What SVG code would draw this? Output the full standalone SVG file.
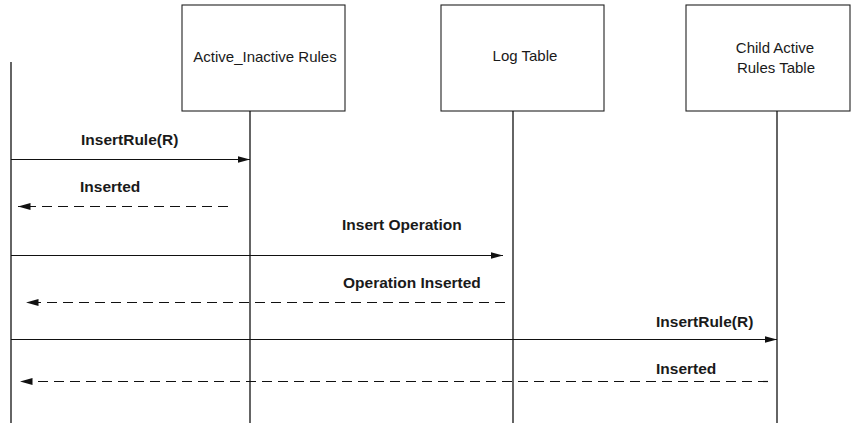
<svg xmlns="http://www.w3.org/2000/svg" width="852" height="425" viewBox="0 0 852 425">
  <style>
    .box { fill: #ffffff; stroke: #222222; stroke-width: 1.1; }
    .life { stroke: #111111; stroke-width: 1.3; fill: none; }
    .call { stroke: #111111; stroke-width: 1.2; fill: none; marker-end: url(#head); }
    .reply { stroke: #111111; stroke-width: 1.2; fill: none; stroke-dasharray: 10 6; marker-end: url(#head); }
    .name { font-family: "Liberation Sans", Arial, sans-serif; font-size: 15px; fill: #1a1a1a; text-anchor: middle; }
    .msg { font-family: "Liberation Sans", Arial, sans-serif; font-size: 15.5px; font-weight: bold; fill: #1a1a1a; }
  </style>
  <defs>
    <marker id="head" markerUnits="userSpaceOnUse" markerWidth="13" markerHeight="8" refX="12.5" refY="3.5" orient="auto">
      <path d="M0,0 L12.5,3.5 L0,7 z" fill="#111111"/>
    </marker>
  </defs>

  <rect width="852" height="425" fill="#ffffff"/>

  <!-- caller lifeline (no header box) -->
  <g id="caller">
    <line class="life" x1="11" y1="62" x2="11" y2="423"/>
  </g>

  <g id="active-inactive-rules">
    <rect class="box" x="182" y="5" width="163" height="106"/>
    <text class="name" x="265" y="62">Active_Inactive Rules</text>
    <line class="life" x1="250" y1="111" x2="250" y2="423"/>
  </g>

  <g id="log-table">
    <rect class="box" x="441" y="5" width="163" height="106"/>
    <text class="name" x="525" y="61">Log Table</text>
    <line class="life" x1="513" y1="111" x2="513" y2="423"/>
  </g>

  <g id="child-active-rules-table">
    <rect class="box" x="686" y="5" width="164" height="106"/>
    <text class="name" x="775" y="53">Child Active</text>
    <text class="name" x="776" y="73">Rules Table</text>
    <line class="life" x1="777" y1="111" x2="777" y2="423"/>
  </g>

  <!-- messages -->
  <g id="connectors">
    <line class="call" x1="11" y1="159.5" x2="250" y2="159.5"/>
    <text class="msg" x="81" y="145">InsertRule(R)</text>

    <line class="reply" x1="228" y1="206.5" x2="18" y2="206.5"/>
    <text class="msg" x="80" y="192">Inserted</text>

    <line class="call" x1="11" y1="255.5" x2="503" y2="255.5"/>
    <text class="msg" x="342" y="230">Insert Operation</text>

    <line class="reply" x1="505" y1="302.5" x2="26" y2="302.5"/>
    <text class="msg" x="343" y="288">Operation Inserted</text>

    <line class="call" x1="11" y1="339.5" x2="777" y2="339.5"/>
    <text class="msg" x="656" y="327">InsertRule(R)</text>

    <line class="reply" x1="768" y1="381.5" x2="20" y2="381.5"/>
    <text class="msg" x="656" y="374">Inserted</text>
  </g>
</svg>
